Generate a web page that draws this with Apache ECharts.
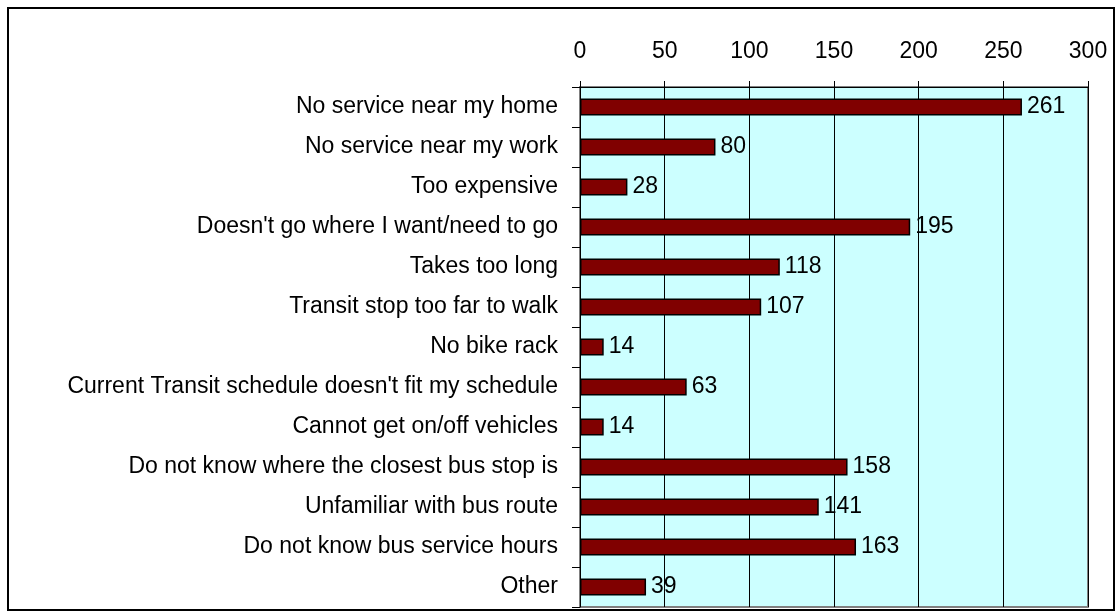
<!DOCTYPE html>
<html>
<head>
<meta charset="utf-8">
<script src="https://cdn.jsdelivr.net/npm/echarts@6/dist/echarts.min.js"></script>
<style>
  html, body { margin: 0; padding: 0; background: #ffffff; }
  #chart { width: 1120px; height: 616px; }
  .frame { position: absolute; left: 7px; top: 7px; width: 1104px; height: 600px; border: 2px solid #000; pointer-events: none; }
</style>
</head>
<body>
<div id="chart"></div>
<div class="frame"></div>
<script>
// reasons for not using transit
const categories = [
  'No service near my home',
  'No service near my work',
  'Too expensive',
  "Doesn't go where I want/need to go",
  'Takes too long',
  'Transit stop too far to walk',
  'No bike rack',
  "Current Transit schedule doesn't fit my schedule",
  'Cannot get on/off vehicles',
  'Do not know where the closest bus stop is',
  'Unfamiliar with bus route',
  'Do not know bus service hours',
  'Other'
];
const counts = [261, 80, 28, 195, 118, 107, 14, 63, 14, 158, 141, 163, 39];

const fontFamily = 'Liberation Sans, Arial, sans-serif';
const myChart = echarts.init(document.getElementById('chart'));

const option = {
  backgroundColor: '#ffffff',
  animation: false,
  grid: {
    left: 580,
    right: 32,
    top: 87,
    bottom: 9,
    show: true,
    backgroundColor: '#ccffff',
    borderColor: '#808080',
    borderWidth: 2
  },
  xAxis: {
    type: 'value',
    position: 'top',
    min: 0,
    max: 300,
    interval: 50,
    axisLine: { show: true, lineStyle: { color: '#000', width: 1 } },
    axisTick: { show: true, length: 6, lineStyle: { color: '#000' } },
    axisLabel: { color: '#000', fontFamily: fontFamily, fontSize: 23, margin: 24 },
    splitLine: { show: true, lineStyle: { color: '#000', width: 1 } }
  },
  yAxis: {
    type: 'category',
    inverse: true,
    data: categories,
    axisLine: { show: true, lineStyle: { color: '#000', width: 1 } },
    axisTick: { show: true, length: 8, lineStyle: { color: '#000' } },
    axisLabel: { color: '#000', fontFamily: fontFamily, fontSize: 23, margin: 22 },
    splitLine: { show: false }
  },
  series: [
    {
      name: 'Count',
      type: 'bar',
      data: counts,
      barWidth: 17,
      itemStyle: { color: '#800000', borderColor: '#000', borderWidth: 1.5 },
      label: {
        show: true,
        position: 'right',
        distance: 5,
        color: '#000',
        fontFamily: fontFamily,
        fontSize: 23
      }
    }
  ]
};

myChart.setOption(option);
</script>
</body>
</html>
